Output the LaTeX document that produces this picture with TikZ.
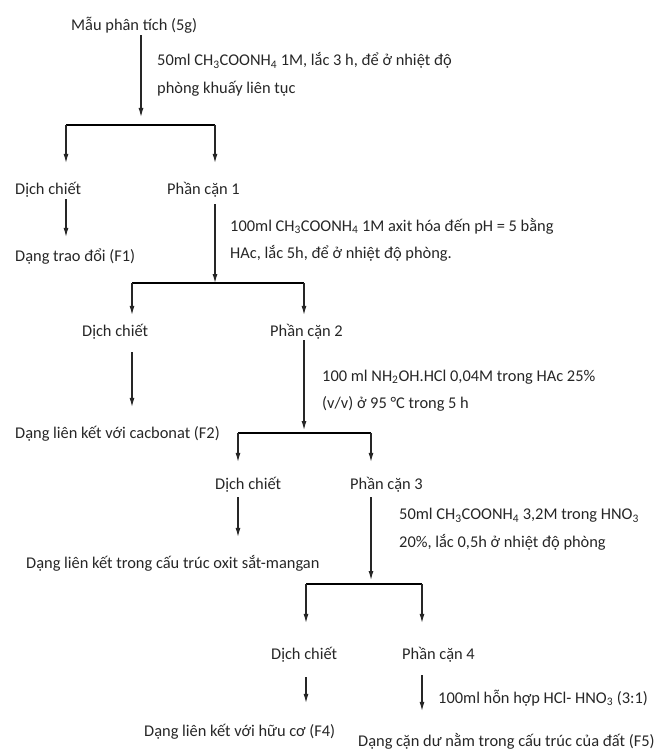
\documentclass[tikz,border=0pt]{standalone}
\usepackage{fontspec}
\setmainfont{Carlito}
\usetikzlibrary{arrows.meta}
\begin{document}
\begin{tikzpicture}[x=1pt,y=-1pt,
        every node/.style={inner sep=0pt,text=black!85,font=\fontsize{16.4}{27.5}\selectfont},
        txt/.style={anchor=base west,text height=12pt,text depth=4pt},
        note/.style={anchor=west,align=left},
        arr/.style={draw=black!85,line width=1.1pt,-{Latex[length=9pt,width=5pt]}},
        bar/.style={draw=black,line width=2pt}]
    \useasboundingbox (0,0) rectangle (665,751);
    \node[txt] (mau) at (71,31) {Mẫu phân tích (5g)};
    \node[note] (l1) at (157,74.5) {50ml CH\textsubscript{3}COONH\textsubscript{4} 1M, lắc 3 h, để ở nhiệt độ\\phòng khuấy liên tục};
    \coordinate (j1) at (141,117);
    \coordinate (b1l) at (66,125);
    \coordinate (b1r) at (215,125);
    \node[txt] (dc1) at (15,195) {Dịch chiết};
    \node[txt] (pc1) at (167,195) {Phần cặn 1};
    \node[txt] (f1) at (15,261) {Dạng trao đổi (F1)};
    \node[note] (l2) at (230,240) {100ml CH\textsubscript{3}COONH\textsubscript{4} 1M axit hóa đến pH = 5 bằng\\HAc, lắc 5h, để ở nhiệt độ phòng.};
    \coordinate (j2) at (215,283);
    \coordinate (b2l) at (132,283);
    \coordinate (b2r) at (304,283);
    \node[txt] (dc2) at (82,336) {Dịch chiết};
    \node[txt] (pc2) at (270,336) {Phần cặn 2};
    \node[txt] (f2) at (15,438) {Dạng liên kết với cacbonat (F2)};
    \node[note] (l3) at (322,390.5) {100 ml NH\textsubscript{2}OH.HCl 0,04M trong HAc 25\%\\(v/v) ở 95 °C trong 5 h};
    \coordinate (j3) at (304,430);
    \coordinate (b3l) at (238,433);
    \coordinate (b3r) at (371,433);
    \node[txt] (dc3) at (215,489) {Dịch chiết};
    \node[txt] (pc3) at (350,489) {Phần cặn 3};
    \node[txt] (f3) at (26,568) {Dạng liên kết trong cấu trúc oxit sắt-mangan};
    \node[note] (l4) at (399,529) {50ml CH\textsubscript{3}COONH\textsubscript{4} 3,2M trong HNO\textsubscript{3}\\20\%, lắc 0,5h ở nhiệt độ phòng};
    \coordinate (j4) at (371,580);
    \coordinate (b4l) at (306,584);
    \coordinate (b4r) at (422,584);
    \node[txt] (dc4) at (271,659) {Dịch chiết};
    \node[txt] (pc4) at (402,659) {Phần cặn 4};
    \node[txt] (f4) at (144,736) {Dạng liên kết với hữu cơ (F4)};
    \node[txt] (l5) at (438,703) {100ml hỗn hợp HCl- HNO\textsubscript{3} (3:1)};
    \node[txt] (f5) at (358,746) {Dạng cặn dư nằm trong cấu trúc của đất (F5)};
    \draw[arr] (mau.south -| j1) -- (j1);
    \draw[bar] (b1l) -- (b1r);
    \draw[arr,shorten >=20pt] (b1l) -- (b1l |- dc1.north);
    \draw[arr,shorten >=20pt] (b1r) -- (b1r |- pc1.north);
    \draw[arr,shorten >=12pt] (dc1.south -| b1l) -- (b1l |- f1.north);
    \draw[arr,shorten <=5pt] (pc1.south -| j2) -- (j2);
    \draw[bar] (b2l) -- (b2r);
    \draw[arr,shorten >=9pt] (b2l) -- (b2l |- dc2.north);
    \draw[arr,shorten >=9pt] (b2r) -- (b2r |- pc2.north);
    \draw[arr,shorten <=12pt,shorten >=19pt] (dc2.south -| b2l) -- (b2l |- f2.north);
    \draw[arr] (pc2.south -| j3) -- (j3);
    \draw[bar] (b3l) -- (b3r);
    \draw[arr,shorten >=15pt] (b3l) -- (b3l |- dc3.north);
    \draw[arr,shorten >=15pt] (b3r) -- (b3r |- pc3.north);
    \draw[arr,shorten <=4pt,shorten >=19pt] (dc3.south -| b3l) -- (b3l |- f3.north);
    \draw[arr,shorten <=4pt] (pc3.south -| j4) -- (j4);
    \draw[bar] (b4l) -- (b4r);
    \draw[arr,shorten >=24pt] (b4l) -- (b4l |- dc4.north);
    \draw[arr,shorten >=24pt] (b4r) -- (b4r |- pc4.north);
    \draw[arr,shorten <=14pt,shorten >=21pt] (dc4.south -| b4l) -- (b4l |- f4.north);
    \draw[arr,shorten <=12pt,shorten >=23pt] (pc4.south -| b4r) -- (b4r |- f5.north);
\end{tikzpicture}
\end{document}
